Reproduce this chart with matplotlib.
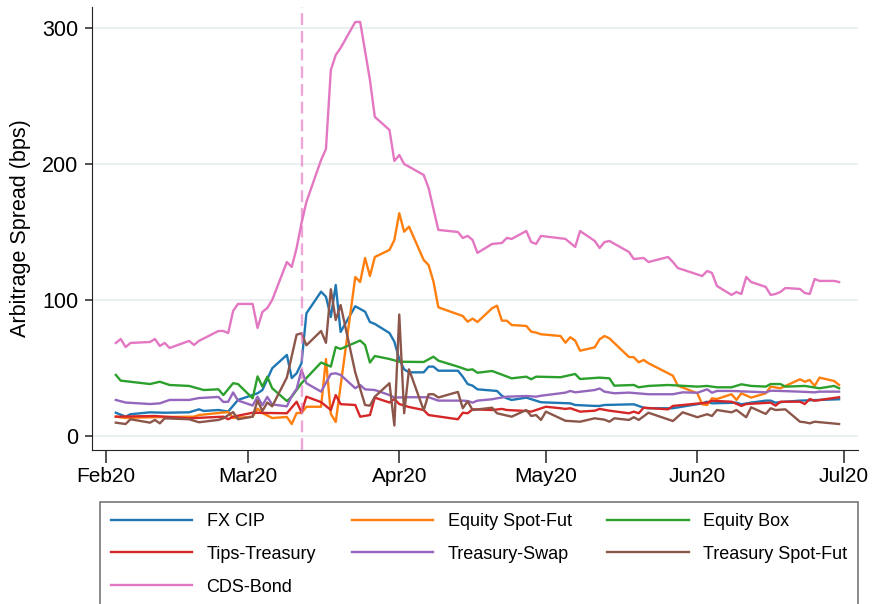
import pandas as pd
import numpy as np
import matplotlib
matplotlib.use('Agg')
import matplotlib.pyplot as plt
import matplotlib.dates as mdates

plt.rcParams['font.family'] = ['Liberation Sans', 'DejaVu Sans']

# daily arbitrage spreads in bps, 2020 (MM-DD)
fx_cip_dates = ['02-03', '02-05', '02-06', '02-10', '02-13', '02-18', '02-20', '02-21', '02-24', '02-26',
                '02-28', '03-02', '03-03', '03-04', '03-06', '03-09', '03-10', '03-11', '03-12', '03-13',
                '03-16', '03-17', '03-18', '03-19', '03-20', '03-23', '03-25', '03-26', '03-27', '03-30',
                '03-31', '04-01', '04-02', '04-03', '04-06', '04-07', '04-08', '04-09', '04-13', '04-14',
                '04-15', '04-16', '04-17', '04-21', '04-22', '04-23', '04-24', '04-27', '04-30', '05-06',
                '05-07', '05-11', '05-12', '05-13', '05-19', '05-21', '05-22', '05-27', '06-02', '06-03',
                '06-04', '06-09', '06-10', '06-12', '06-15', '06-16', '06-17', '06-19', '06-22', '06-30']
fx_cip = [17.1, 14.2, 16.0, 17.4, 17.1, 17.4, 19.6, 18.4, 19.1, 18.0,
          26.5, 30.1, 31.4, 33.8, 49.8, 59.6, 42.6, 46.1, 53.5, 90.2,
          106.1, 102.4, 87.5, 111.0, 76.5, 95.4, 91.4, 83.8, 82.4, 75.7,
          69.3, 56.5, 49.0, 46.8, 46.8, 51.0, 51.0, 48.0, 48.0, 43.6,
          38.2, 37.0, 34.3, 33.1, 29.6, 27.7, 26.5, 28.2, 24.8, 24.0,
          22.8, 22.1, 22.1, 22.8, 23.3, 20.8, 20.4, 20.4, 24.0, 25.2,
          24.0, 24.5, 23.3, 24.5, 26.0, 26.0, 24.5, 25.2, 26.0, 27.0]

eq_spot_dates = ['02-03', '02-05', '02-07', '02-14', '02-19', '02-20', '02-24', '02-26', '02-27', '03-02',
                 '03-03', '03-04', '03-06', '03-09', '03-10', '03-11', '03-12', '03-13', '03-16', '03-17',
                 '03-18', '03-19', '03-23', '03-24', '03-25', '03-26', '03-27', '03-30', '03-31', '04-01',
                 '04-02', '04-03', '04-06', '04-07', '04-08', '04-09', '04-14', '04-15', '04-16', '04-17',
                 '04-20', '04-21', '04-22', '04-23', '04-24', '04-27', '04-28', '04-29', '04-30', '05-04',
                 '05-05', '05-06', '05-07', '05-08', '05-11', '05-12', '05-13', '05-14', '05-18', '05-19',
                 '05-20', '05-21', '05-22', '05-27', '05-28', '06-01', '06-02', '06-03', '06-04', '06-05',
                 '06-08', '06-09', '06-10', '06-12', '06-15', '06-16', '06-18', '06-22', '06-23', '06-24',
                 '06-25', '06-26', '06-29', '06-30']
eq_spot = [14.2, 13.2, 13.5, 14.0, 14.2, 15.4, 16.9, 17.6, 13.2, 14.2,
           20.1, 16.9, 13.2, 14.0, 8.8, 16.9, 16.9, 21.5, 21.5, 56.6,
           16.2, 10.3, 116.9, 113.2, 130.9, 117.6, 131.6, 136.8, 144.1, 163.8,
           150.2, 153.9, 129.4, 125.7, 113.5, 94.6, 88.2, 84.0, 86.3, 83.8,
           93.9, 95.8, 84.8, 84.8, 81.6, 80.9, 76.7, 76.0, 74.8, 73.5,
           68.6, 72.6, 70.1, 62.7, 65.2, 71.1, 73.5, 71.8, 58.1, 57.9,
           54.2, 55.9, 53.5, 44.3, 37.0, 31.4, 23.3, 22.8, 27.7, 27.2,
           30.7, 26.5, 31.4, 28.2, 31.4, 36.3, 35.1, 41.7, 39.9, 41.2,
           36.8, 42.9, 40.4, 37.5]

eq_box_dates = ['02-03', '02-04', '02-10', '02-12', '02-14', '02-18', '02-21', '02-24', '02-25', '02-27',
                '02-28', '03-02', '03-03', '03-04', '03-05', '03-06', '03-09', '03-10', '03-12', '03-16',
                '03-18', '03-19', '03-20', '03-24', '03-25', '03-26', '03-27', '03-30', '04-01', '04-06',
                '04-08', '04-09', '04-13', '04-15', '04-16', '04-17', '04-20', '04-24', '04-27', '04-28',
                '04-29', '05-04', '05-07', '05-08', '05-12', '05-14', '05-15', '05-19', '05-20', '05-22',
                '05-26', '06-01', '06-03', '06-05', '06-08', '06-10', '06-12', '06-15', '06-16', '06-18',
                '06-19', '06-23', '06-26', '06-29', '06-30']
eq_box = [44.9, 40.7, 38.2, 39.9, 37.5, 36.8, 33.8, 34.3, 30.1, 38.8,
          38.2, 27.7, 43.8, 36.3, 43.6, 35.1, 25.7, 28.9, 38.8, 54.0,
          51.0, 65.4, 64.0, 70.2, 66.9, 54.0, 58.8, 56.6, 54.6, 54.4,
          58.3, 55.4, 51.0, 48.5, 49.0, 46.5, 47.8, 42.4, 43.6, 41.7,
          43.6, 43.2, 45.6, 41.9, 42.9, 42.4, 37.0, 37.5, 35.8, 36.8,
          37.5, 36.3, 36.8, 35.8, 35.8, 38.0, 36.8, 36.3, 38.2, 38.2,
          36.3, 36.8, 35.1, 36.8, 35.1]

tips_dates = ['02-03', '02-11', '02-18', '02-25', '02-26', '02-27', '03-02', '03-09', '03-11', '03-12',
              '03-13', '03-16', '03-18', '03-19', '03-20', '03-23', '03-24', '03-26', '03-27', '03-30',
              '03-31', '04-01', '04-03', '04-06', '04-07', '04-13', '04-14', '04-15', '04-16', '04-20',
              '04-22', '04-23', '04-27', '04-28', '04-29', '05-01', '05-04', '05-05', '05-06', '05-08',
              '05-11', '05-12', '05-14', '05-18', '05-19', '05-20', '05-21', '05-26', '05-27', '06-03',
              '06-04', '06-08', '06-10', '06-11', '06-16', '06-17', '06-18', '06-22', '06-23', '06-24',
              '06-25', '06-30']
tips = [14.2, 14.7, 13.0, 14.2, 12.3, 14.2, 17.1, 16.7, 25.2, 17.4,
        28.9, 24.9, 19.1, 30.1, 23.4, 22.8, 14.2, 15.4, 28.2, 24.6,
        27.2, 23.5, 21.3, 19.1, 15.4, 12.3, 17.1, 16.7, 19.6, 19.1,
        19.9, 19.1, 18.4, 17.9, 19.1, 21.5, 20.4, 19.9, 20.4, 17.9,
        18.6, 19.9, 18.6, 16.7, 17.9, 16.7, 20.8, 19.6, 22.1, 24.5,
        25.9, 25.2, 22.1, 23.5, 24.5, 22.3, 25.2, 25.2, 23.5, 27.2,
        25.9, 28.5]

swap_dates = ['02-03', '02-05', '02-10', '02-12', '02-14', '02-18', '02-20', '02-24', '02-25', '02-26',
              '02-27', '02-28', '03-02', '03-03', '03-04', '03-05', '03-06', '03-09', '03-10', '03-11',
              '03-12', '03-13', '03-16', '03-18', '03-19', '03-20', '03-23', '03-24', '03-25', '03-27',
              '03-30', '03-31', '04-03', '04-07', '04-09', '04-14', '04-15', '04-16', '04-17', '04-20',
              '04-21', '04-23', '04-27', '04-29', '04-30', '05-04', '05-05', '05-06', '05-07', '05-11',
              '05-12', '05-13', '05-15', '05-18', '05-22', '05-27', '05-29', '06-01', '06-03', '06-04',
              '06-05', '06-08', '06-15', '06-16', '06-18', '06-22', '06-25', '06-26', '06-30']
swap = [26.5, 24.6, 23.5, 24.0, 26.5, 26.5, 27.9, 28.7, 25.0, 25.2,
        32.0, 26.1, 22.4, 28.9, 22.6, 28.7, 23.2, 21.8, 29.4, 34.6,
        48.5, 38.8, 32.6, 45.6, 46.1, 44.9, 35.1, 37.5, 34.3, 33.8,
        30.1, 28.3, 28.5, 28.5, 26.0, 26.0, 25.7, 24.5, 26.0, 27.0,
        27.7, 28.9, 29.4, 28.9, 29.6, 31.4, 31.9, 33.1, 32.1, 33.8,
        34.9, 32.6, 31.4, 31.9, 30.7, 30.7, 32.1, 31.8, 34.3, 31.8,
        33.1, 33.1, 32.1, 33.3, 33.1, 32.6, 32.1, 32.6, 32.6]

tfut_dates = ['02-03', '02-04', '02-05', '02-06', '02-10', '02-11', '02-12', '02-13', '02-18', '02-20',
              '02-24', '02-25', '02-27', '02-28', '03-02', '03-03', '03-04', '03-05', '03-06', '03-09',
              '03-11', '03-12', '03-13', '03-16', '03-17', '03-18', '03-19', '03-20', '03-23', '03-25',
              '03-26', '03-27', '03-30', '03-31', '04-01', '04-02', '04-03', '04-06', '04-07', '04-08',
              '04-09', '04-13', '04-14', '04-15', '04-16', '04-20', '04-21', '04-24', '04-27', '04-28',
              '04-29', '04-30', '05-01', '05-05', '05-08', '05-11', '05-13', '05-14', '05-15', '05-18',
              '05-19', '05-20', '05-22', '05-27', '05-29', '06-01', '06-03', '06-04', '06-05', '06-08',
              '06-09', '06-11', '06-12', '06-15', '06-16', '06-17', '06-19', '06-22', '06-23', '06-24',
              '06-25', '06-30']
tfut = [9.8, 9.3, 8.8, 12.3, 9.8, 11.8, 9.3, 13.0, 12.3, 10.1,
        11.8, 13.0, 17.6, 12.3, 14.2, 26.1, 18.4, 24.6, 21.8, 43.0,
        74.5, 75.5, 66.7, 77.2, 68.5, 107.9, 85.3, 96.3, 46.7, 22.8,
        22.3, 28.9, 38.8, 7.7, 89.3, 16.7, 49.0, 18.9, 30.7, 30.7,
        28.3, 32.4, 20.4, 25.5, 19.1, 20.8, 16.7, 14.2, 19.1, 14.7,
        15.4, 11.8, 17.9, 11.2, 10.5, 13.0, 12.0, 10.5, 13.0, 11.8,
        13.8, 11.8, 17.1, 11.0, 17.4, 13.8, 16.0, 14.7, 19.1, 17.4,
        19.1, 13.8, 21.1, 16.2, 20.4, 19.1, 19.6, 10.5, 10.1, 9.3,
        10.5, 8.8]

cds_dates = ['02-03', '02-04', '02-05', '02-06', '02-10', '02-11', '02-12', '02-13', '02-14', '02-18',
             '02-19', '02-20', '02-24', '02-25', '02-26', '02-27', '02-28', '03-02', '03-03', '03-04',
             '03-05', '03-06', '03-09', '03-10', '03-11', '03-12', '03-13', '03-16', '03-17', '03-18',
             '03-19', '03-20', '03-23', '03-24', '03-26', '03-27', '03-30', '03-31', '04-01', '04-02',
             '04-06', '04-07', '04-09', '04-13', '04-14', '04-15', '04-16', '04-17', '04-20', '04-22',
             '04-23', '04-24', '04-27', '04-28', '04-29', '04-30', '05-05', '05-07', '05-08', '05-11',
             '05-12', '05-13', '05-14', '05-18', '05-19', '05-21', '05-22', '05-26', '05-27', '05-28',
             '06-02', '06-03', '06-04', '06-05', '06-08', '06-09', '06-10', '06-11', '06-12', '06-15',
             '06-16', '06-17', '06-18', '06-19', '06-22', '06-23', '06-24', '06-25', '06-26', '06-29',
             '06-30']
cds = [68.4, 71.3, 65.4, 68.4, 69.1, 71.3, 66.2, 68.4, 64.7, 69.9,
       66.9, 69.9, 77.2, 77.2, 75.7, 91.9, 97.1, 97.1, 79.4, 91.2,
       94.1, 100.0, 127.9, 124.3, 138.2, 156.6, 172.1, 202.9, 211.0, 269.1,
       280.1, 285.3, 304.4, 304.4, 261.8, 234.6, 225.0, 202.2, 206.6, 200.0,
       191.9, 182.4, 151.5, 150.0, 145.6, 147.1, 144.1, 134.6, 141.2, 141.9,
       145.6, 144.9, 150.7, 142.6, 141.2, 147.1, 144.9, 139.0, 150.7, 143.4,
       138.2, 142.6, 143.4, 135.3, 130.1, 130.9, 127.9, 131.6, 127.9, 123.5,
       117.6, 121.3, 119.9, 110.3, 103.7, 105.9, 104.4, 116.9, 113.2, 109.6,
       103.7, 104.4, 105.9, 108.8, 108.1, 105.1, 104.4, 115.4, 114.0, 114.0,
       113.2]

series = [
    ('FX CIP', fx_cip_dates, fx_cip, '#1f77b4'),
    ('Equity Spot-Fut', eq_spot_dates, eq_spot, '#ff7f0e'),
    ('Equity Box', eq_box_dates, eq_box, '#2ca02c'),
    ('Tips-Treasury', tips_dates, tips, '#d62728'),
    ('Treasury-Swap', swap_dates, swap, '#9467bd'),
    ('Treasury Spot-Fut', tfut_dates, tfut, '#8c564b'),
    ('CDS-Bond', cds_dates, cds, '#e377c2'),
]

fig = plt.figure(figsize=(8.73, 6.04), dpi=100)
ax = fig.add_axes([92 / 873, 154 / 604, 766 / 873, 443 / 604])

lines = {}
for name, d, v, c in series:
    x = pd.to_datetime(['2020-' + s for s in d])
    lines[name], = ax.plot(x, v, color=c, lw=1.7, label=name)

# start of the crisis period
ax.axvline(pd.Timestamp('2020-03-12'), color='#e377c2', alpha=0.65, lw=1.7,
           ls=(0, (5, 2.5)), zorder=3)

ax.set_xlim(pd.Timestamp('2020-01-29 03:00'), pd.Timestamp('2020-07-03 21:00'))
ax.set_ylim(-10.3, 315.4)
ax.set_yticks([0, 100, 200, 300])
ax.xaxis.set_major_locator(mdates.MonthLocator())
ax.xaxis.set_major_formatter(mdates.DateFormatter('%b%y'))

ax.grid(axis='y', color='#eaeff2', lw=1.5)
ax.set_axisbelow(True)
for s in ['top', 'right']:
    ax.spines[s].set_visible(False)
ax.spines['left'].set_color('#222222')
ax.spines['bottom'].set_color('#222222')
ax.tick_params(axis='x', length=9, width=1.3, color='#444444', labelsize=15, pad=3)
ax.tick_params(axis='y', length=5, width=1.3, color='#444444', labelsize=15.5, pad=5)
ax.set_ylabel('Arbitrage Spread (bps)', fontsize=15.5, labelpad=8)

order = ['FX CIP', 'Tips-Treasury', 'CDS-Bond', 'Equity Spot-Fut', 'Treasury-Swap',
         'Equity Box', 'Treasury Spot-Fut']
leg = fig.legend([lines[n] for n in order], order, loc='upper left',
                 bbox_to_anchor=(100 / 873, 1 - 502 / 604, 758 / 873, 0),
                 mode='expand', ncol=3, fontsize=13, frameon=True, fancybox=False,
                 edgecolor='#555555', handlelength=4.5, handletextpad=0.8,
                 labelspacing=0.88, borderaxespad=0, borderpad=0.6)
leg.get_frame().set_linewidth(1.2)

fig.savefig('out.png', dpi=100)
